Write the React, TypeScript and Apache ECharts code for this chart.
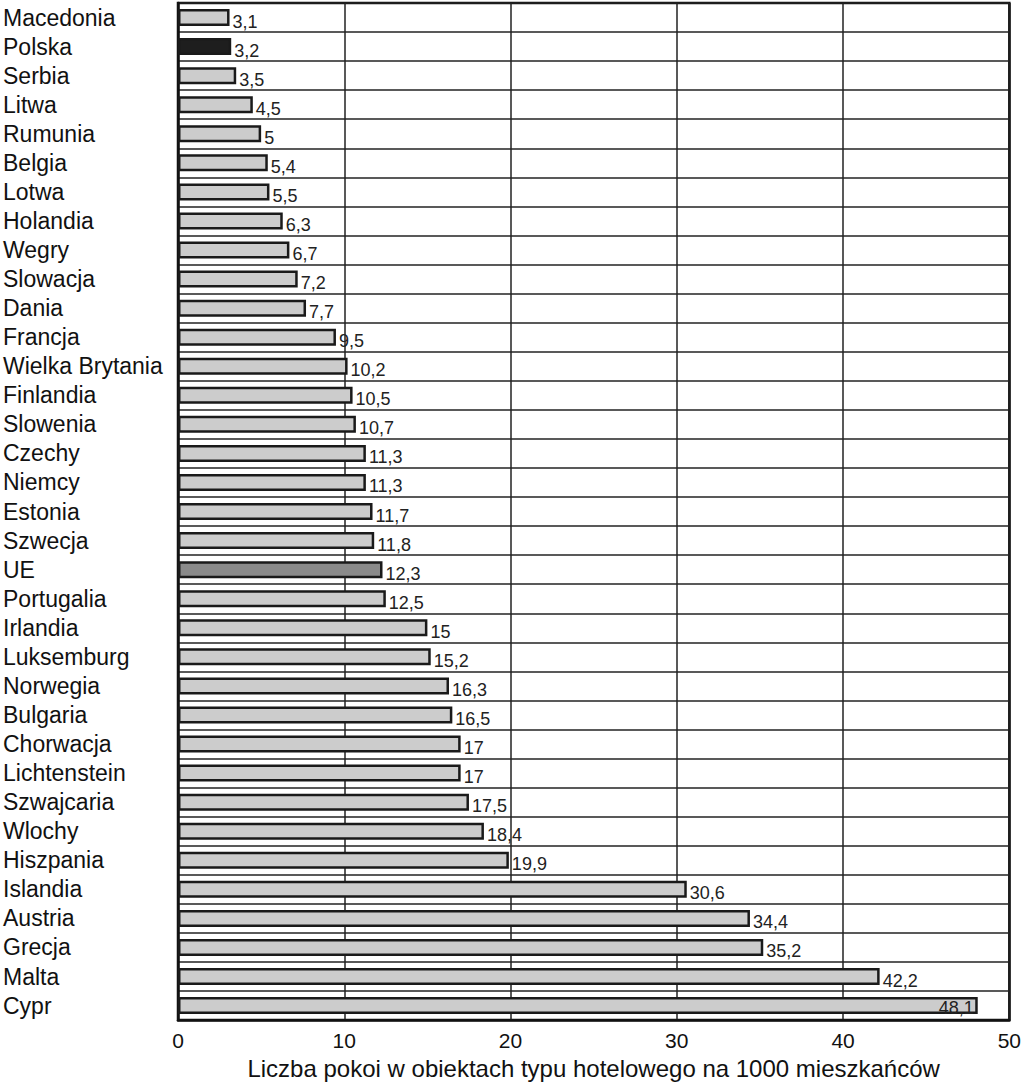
import React, { useEffect, useRef } from "react";
import * as echarts from "echarts";

const categories = [
  "Macedonia", "Polska", "Serbia", "Litwa", "Rumunia", "Belgia", "Lotwa", "Holandia",
  "Wegry", "Slowacja", "Dania", "Francja", "Wielka Brytania", "Finlandia", "Slowenia",
  "Czechy", "Niemcy", "Estonia", "Szwecja", "UE", "Portugalia", "Irlandia", "Luksemburg",
  "Norwegia", "Bulgaria", "Chorwacja", "Lichtenstein", "Szwajcaria", "Wlochy", "Hiszpania",
  "Islandia", "Austria", "Grecja", "Malta", "Cypr",
];

const values = [
  3.1, 3.2, 3.5, 4.5, 5, 5.4, 5.5, 6.3, 6.7, 7.2, 7.7, 9.5, 10.2, 10.5, 10.7, 11.3, 11.3,
  11.7, 11.8, 12.3, 12.5, 15, 15.2, 16.3, 16.5, 17, 17, 17.5, 18.4, 19.9, 30.6, 34.4, 35.2,
  42.2, 48.1,
];

const xTicks = [0, 10, 20, 30, 40, 50];
const xAxisTitle = "Liczba pokoi w obiektach typu hotelowego na 1000 mieszkańców";

const highlight: Record<string, string> = { Polska: "#1e1e1e", UE: "#8a8a8a" };
const insideLabel = ["Cypr"];

export default function App() {
  const ref = useRef<HTMLDivElement>(null);
  useEffect(() => {
    document.documentElement.style.overflow = "hidden";
    document.body.style.margin = "0";
    document.body.style.overflow = "hidden";
    if (!ref.current) return;
    const chart = echarts.init(ref.current, null, { renderer: "svg" });
    const font = "'Liberation Sans', Arial, sans-serif";
    chart.setOption({
      animation: false,
      backgroundColor: "#ffffff",
      grid: {
        left: 177,
        right: 13,
        top: 3,
        bottom: 58,
        show: true,
        borderColor: "#111",
        borderWidth: 2.5,
        containLabel: false,
      },
      xAxis: {
        type: "value",
        min: xTicks[0],
        max: xTicks[xTicks.length - 1],
        interval: 10,
        axisLine: { show: true, lineStyle: { color: "#111", width: 2.5 } },
        axisTick: { show: false },
        splitLine: { show: true, lineStyle: { color: "#222", width: 1.5 } },
        axisLabel: { fontFamily: font, fontSize: 21, color: "#111", margin: 10 },
        name: xAxisTitle,
        nameLocation: "middle",
        nameGap: 33,
        nameTextStyle: { fontFamily: font, fontSize: 24, color: "#111" },
      },
      yAxis: {
        type: "category",
        data: categories,
        inverse: true,
        axisLine: { show: true, lineStyle: { color: "#111", width: 2.5 } },
        axisTick: { show: false },
        splitLine: { show: true, interval: 0, lineStyle: { color: "#222", width: 1.5 } },
        axisLabel: {
          interval: 0,
          align: "left",
          margin: 175,
          fontFamily: font,
          fontSize: 23,
          color: "#111",
          padding: [0, 0, 4, 0],
        },
      },
      series: [
        {
          type: "bar",
          barWidth: 17,
          data: values.map((v, i) => {
            const c = categories[i];
            const item: any = {
              value: v,
              itemStyle: {
                color: highlight[c] || "#cccccc",
                borderColor: "#1a1a1a",
                borderWidth: 2.5,
              },
            };
            if (insideLabel.includes(c)) {
              item.label = { position: "insideRight", distance: 4, offset: [0, 2] };
            }
            return item;
          }),
          label: {
            show: true,
            position: "right",
            distance: 3,
            offset: [0, 4],
            fontFamily: font,
            fontSize: 18,
            color: "#222",
            formatter: (p: any) => String(p.value).replace(".", ","),
          },
        },
      ],
    });
    return () => chart.dispose();
  }, []);
  return <div ref={ref} style={{ width: 1024, height: 1085 }} />;
}
